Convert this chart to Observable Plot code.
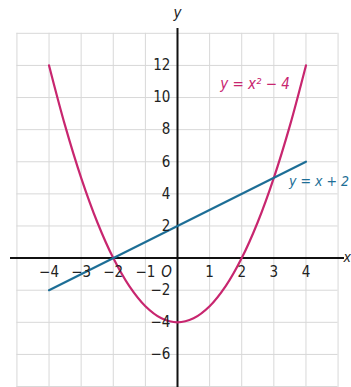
<!DOCTYPE html>
<html>
<head>
<meta charset="utf-8">
<script src="https://cdn.jsdelivr.net/npm/d3@7"></script>
<script src="https://cdn.jsdelivr.net/npm/@observablehq/plot@0.6"></script>
<style>
  html, body { margin: 0; padding: 0; background: #fff; }
  svg { display: block; }
</style>
</head>
<body>
<div id="chart"></div>
<script>
// Parabola y = x^2 - 4
const parabolaX = [-4, -3.5, -3, -2.5, -2, -1.5, -1, -0.5, 0, 0.5, 1, 1.5, 2, 2.5, 3, 3.5, 4];
const parabolaY = [12, 8.25, 5, 2.25, 0, -1.75, -3, -3.75, -4, -3.75, -3, -1.75, 0, 2.25, 5, 8.25, 12];
// Line y = x + 2
const lineX = [-4, 4];
const lineY = [-2, 6];

// Grid
const gridX = [-5, -4, -3, -2, -1, 0, 1, 2, 3, 4, 5];
const gridY = [-8, -6, -4, -2, 0, 2, 4, 6, 8, 10, 12, 14];

// Tick labels
const xTicks = [-4, -3, -2, -1, 1, 2, 3, 4];
const xTickLabels = ["−4", "−3", "−2", "−1", "1", "2", "3", "4"];
const yTicks = [12, 10, 8, 6, 4, 2, -2, -4, -6];
const yTickLabels = ["12", "10", "8", "6", "4", "2", "−2", "−4", "−6"];

const parabola = parabolaX.map((x, i) => ({x, y: parabolaY[i]}));
const line = lineX.map((x, i) => ({x, y: lineY[i]}));

const font = "'DejaVu Sans Condensed', 'Open Sans', sans-serif";
const pink = "#c8266f";
const blue = "#1d6e96";

const chart = Plot.plot({
  width: 351,
  height: 387,
  marginLeft: 10,
  marginRight: 7,
  marginTop: 28,
  marginBottom: 0,
  style: {fontFamily: font, background: "#fff", overflow: "visible"},
  x: {domain: [-5.2, 5.2], axis: null},
  y: {domain: [-8.06, 14.3], axis: null},
  marks: [
    Plot.ruleX(gridX, {y1: -8.1, y2: 14, stroke: "#d8d8d8", strokeWidth: 1}),
    Plot.ruleY(gridY, {x1: -5, x2: 5, stroke: "#d8d8d8", strokeWidth: 1}),
    // axes
    Plot.ruleY([0], {x1: -5.2, x2: 5.2, stroke: "#111", strokeWidth: 2}),
    Plot.ruleX([0], {y1: -8.1, y2: 14.3, stroke: "#111", strokeWidth: 2}),
    // curves
    Plot.line(parabola, {x: "x", y: "y", stroke: pink, strokeWidth: 2.2, curve: "catmull-rom"}),
    Plot.line(line, {x: "x", y: "y", stroke: blue, strokeWidth: 2.2}),
    // tick labels
    Plot.text(xTicks, {x: d => d, y: -0.9, text: (d, i) => xTickLabels[i], fontSize: 15, fill: "#222", textAnchor: "middle"}),
    Plot.text(["O"], {x: -0.34, y: -0.9, text: d => d, fontSize: 15, fontStyle: "italic", fill: "#222"}),
    Plot.text(yTicks, {x: -0.22, y: d => d, text: (d, i) => yTickLabels[i], fontSize: 15, fill: "#222", textAnchor: "end"}),
    // axis labels
    Plot.text(["y"], {x: 0, y: 15.25, text: d => d, fontSize: 15, fontStyle: "italic", fill: "#222"}),
    Plot.text(["x"], {x: 5.4, y: 0.05, text: d => d, fontSize: 14, fontStyle: "italic", fill: "#222", textAnchor: "end"}),
    // equation labels
    Plot.text(["y = x² − 4"], {x: 1.33, y: 10.85, text: d => d, fontSize: 15, fontStyle: "italic", fill: pink, textAnchor: "start"}),
    Plot.text(["y = x + 2"], {x: 3.47, y: 4.8, text: d => d, fontSize: 14, fontStyle: "italic", fill: blue, textAnchor: "start"})
  ]
});
document.getElementById("chart").appendChild(chart);
</script>
</body>
</html>
